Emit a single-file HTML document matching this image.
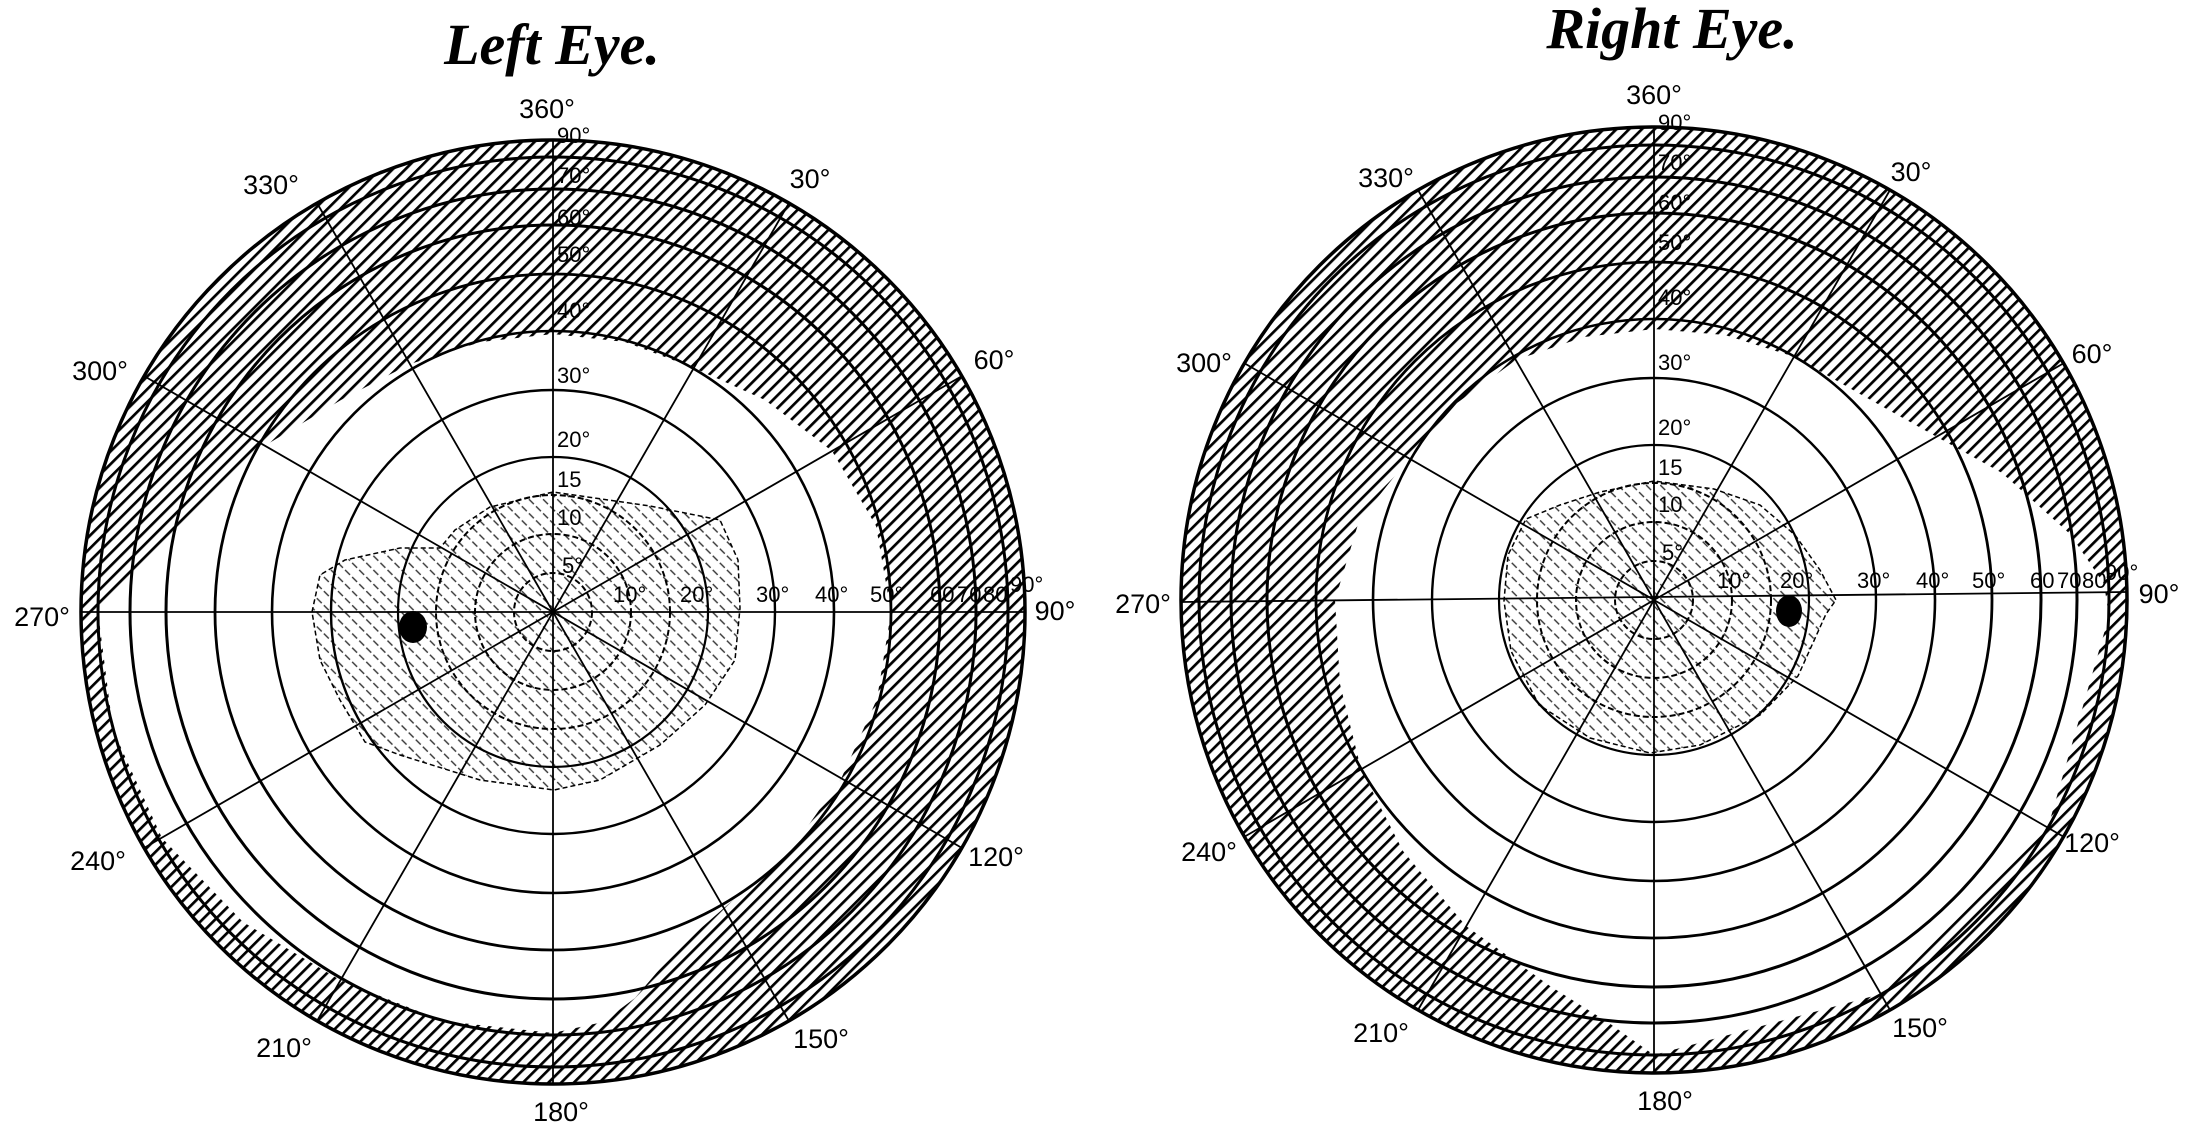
<!DOCTYPE html>
<html><head><meta charset="utf-8"><style>
html,body{margin:0;padding:0;background:#fff;}
svg{display:block;}
text{font-family:"Liberation Sans",sans-serif;fill:#000;}
.t{font-family:"Liberation Serif",serif;font-weight:bold;font-style:italic;font-size:58px;}
.l{font-size:27px;}
.s{font-size:22px;}
</style></head><body>
<svg width="2189" height="1130" viewBox="0 0 2189 1130" xmlns="http://www.w3.org/2000/svg">
<defs>
<pattern id="h" patternUnits="userSpaceOnUse" width="9" height="9" patternTransform="rotate(45)">
<rect x="0" y="0" width="2.7" height="9" fill="#000"/>
</pattern>
<pattern id="d" patternUnits="userSpaceOnUse" width="10" height="10" patternTransform="rotate(-45)">
<line x1="1" y1="0" x2="1" y2="10" stroke="#333" stroke-width="1.4" stroke-dasharray="4 3"/>
</pattern>
</defs>

<!-- LEFT EYE -->
<g>
<path fill="url(#h)" fill-rule="evenodd" d="M81,612 A472,472 0 1,0 1025,612 A472,472 0 1,0 81,612 Z
M553,334 L625,342 L694,368 L765,400 L832,451 L876,526 L891,612 L877,699 L841,779 L791,850 L724,908 L676,950 L635,998 L603,1022 L553,1033 L443,1021 L340,980 L243,922 L162,838 L113,730 L98,612 L261,448 L341,400 L410,364 L481,342 Z"/>
<path fill="url(#d)" stroke="#000" stroke-width="1.5" stroke-dasharray="5 3" d="M312,612 L320,575 L345,560 L400,548 L440,548 L455,530 L490,507 L553,492 L650,506 L720,520 L738,560 L740,608 L735,660 L705,705 L660,745 L600,780 L554,790 L480,780 L400,755 L365,742 L340,700 L320,660 Z"/>
<g fill="none" stroke="#000">
<circle cx="553" cy="612" r="472" stroke-width="3.5"/>
<circle cx="553" cy="612" r="455" stroke-width="3"/>
<circle cx="553" cy="612" r="423" stroke-width="3"/>
<circle cx="553" cy="612" r="387" stroke-width="3"/>
<circle cx="553" cy="612" r="338" stroke-width="2.8"/>
<circle cx="553" cy="612" r="281" stroke-width="2.6"/>
<circle cx="553" cy="612" r="222" stroke-width="2.4"/>
<circle cx="553" cy="612" r="155" stroke-width="2.2"/>
<circle cx="553" cy="612" r="117" stroke-width="2" stroke-dasharray="6 3"/>
<circle cx="553" cy="612" r="78" stroke-width="2" stroke-dasharray="6 3"/>
<circle cx="553" cy="612" r="39" stroke-width="2" stroke-dasharray="6 3"/>
<g stroke-width="1.8">
<line x1="553" y1="140" x2="553" y2="1084"/>
<line x1="81" y1="612" x2="1025" y2="612"/>
<line x1="789" y1="203" x2="317" y2="1021"/>
<line x1="962" y1="376" x2="144" y2="848"/>
<line x1="962" y1="848" x2="144" y2="376"/>
<line x1="789" y1="1021" x2="317" y2="203"/>
</g>
</g>
<ellipse cx="413" cy="627" rx="14" ry="16" fill="#000"/>
<text class="t" x="552" y="64" text-anchor="middle">Left Eye.</text>
<g class="l" text-anchor="middle">
<text x="547" y="118">360°</text>
<text x="271" y="194">330°</text>
<text x="810" y="188">30°</text>
<text x="100" y="380">300°</text>
<text x="994" y="369">60°</text>
<text x="42" y="626">270°</text>
<text x="1055" y="620">90°</text>
<text x="98" y="870">240°</text>
<text x="996" y="866">120°</text>
<text x="284" y="1057">210°</text>
<text x="561" y="1121">180°</text>
<text x="821" y="1048">150°</text>
</g>
<g class="s">
<text x="557" y="143">90°</text>
<text x="557" y="183">70°</text>
<text x="557" y="225">60°</text>
<text x="557" y="262">50°</text>
<text x="557" y="318">40°</text>
<text x="557" y="383">30°</text>
<text x="557" y="447">20°</text>
<text x="557" y="487">15</text>
<text x="557" y="525">10</text>
<text x="562" y="573">5°</text>
<text x="613" y="602">10°</text>
<text x="680" y="602">20°</text>
<text x="756" y="602">30°</text>
<text x="815" y="602">40°</text>
<text x="870" y="602">50°</text>
<text x="930" y="602">60</text>
<text x="957" y="602">70</text>
<text x="983" y="602">80</text>
<text x="1010" y="592">90°</text>
</g>
</g>

<!-- RIGHT EYE -->
<g>
<path fill="url(#h)" fill-rule="evenodd" d="M1181,600 A473,473 0 1,0 2127,600 A473,473 0 1,0 1181,600 Z
M1654,329 L1725,335 L1795,357 L1860,394 L1937,437 L2002,473 L2070,534 L2104,584 L2109,616 L2048,827 L1881,994 L1654,1055 L1609,1023 L1550,986 L1466,926 L1403,851 L1361,769 L1340,684 L1335,600 L1359,521 L1409,458 L1457,403 L1516,360 L1584,337 Z"/>
<path fill="url(#d)" stroke="#000" stroke-width="1.5" stroke-dasharray="5 3" d="M1654,481 L1600,492 L1560,505 L1526,519 L1508,555 L1504,601 L1511,651 L1539,705 L1590,738 L1650,753 L1700,745 L1760,715 L1798,676 L1826,614 L1836,600 L1820,570 L1795,535 L1760,505 L1714,489 Z"/>
<g fill="none" stroke="#000">
<circle cx="1654" cy="600" r="473" stroke-width="3.5"/>
<circle cx="1654" cy="600" r="455" stroke-width="3"/>
<circle cx="1654" cy="600" r="423" stroke-width="3"/>
<circle cx="1654" cy="600" r="387" stroke-width="3"/>
<circle cx="1654" cy="600" r="338" stroke-width="2.8"/>
<circle cx="1654" cy="600" r="281" stroke-width="2.6"/>
<circle cx="1654" cy="600" r="222" stroke-width="2.4"/>
<circle cx="1654" cy="600" r="155" stroke-width="2.2"/>
<circle cx="1654" cy="600" r="117" stroke-width="2" stroke-dasharray="6 3"/>
<circle cx="1654" cy="600" r="78" stroke-width="2" stroke-dasharray="6 3"/>
<circle cx="1654" cy="600" r="39" stroke-width="2" stroke-dasharray="6 3"/>
<g stroke-width="1.8">
<line x1="1654" y1="127" x2="1654" y2="1073"/>
<line x1="1181" y1="602" x2="2127" y2="592"/>
<line x1="1890" y1="190" x2="1418" y2="1010"/>
<line x1="2064" y1="363" x2="1244" y2="837"/>
<line x1="2064" y1="837" x2="1244" y2="363"/>
<line x1="1890" y1="1010" x2="1418" y2="190"/>
</g>
</g>
<ellipse cx="1789" cy="611" rx="13" ry="16" fill="#000"/>
<text class="t" x="1672" y="48" text-anchor="middle">Right Eye.</text>
<g class="l" text-anchor="middle">
<text x="1654" y="104">360°</text>
<text x="1386" y="187">330°</text>
<text x="1911" y="181">30°</text>
<text x="1204" y="372">300°</text>
<text x="2092" y="363">60°</text>
<text x="1143" y="613">270°</text>
<text x="2159" y="603">90°</text>
<text x="1209" y="861">240°</text>
<text x="2092" y="852">120°</text>
<text x="1381" y="1042">210°</text>
<text x="1665" y="1110">180°</text>
<text x="1920" y="1037">150°</text>
</g>
<g class="s">
<text x="1658" y="130">90°</text>
<text x="1658" y="170">70°</text>
<text x="1658" y="210">60°</text>
<text x="1658" y="250">50°</text>
<text x="1658" y="305">40°</text>
<text x="1658" y="370">30°</text>
<text x="1658" y="435">20°</text>
<text x="1658" y="475">15</text>
<text x="1658" y="512">10</text>
<text x="1662" y="560">5°</text>
<text x="1717" y="588">10°</text>
<text x="1780" y="588">20°</text>
<text x="1857" y="588">30°</text>
<text x="1916" y="588">40°</text>
<text x="1972" y="588">50°</text>
<text x="2030" y="588">60</text>
<text x="2057" y="588">70</text>
<text x="2082" y="588">80</text>
<text x="2105" y="580">90°</text>
</g>
</g>
</svg>
</body></html>
